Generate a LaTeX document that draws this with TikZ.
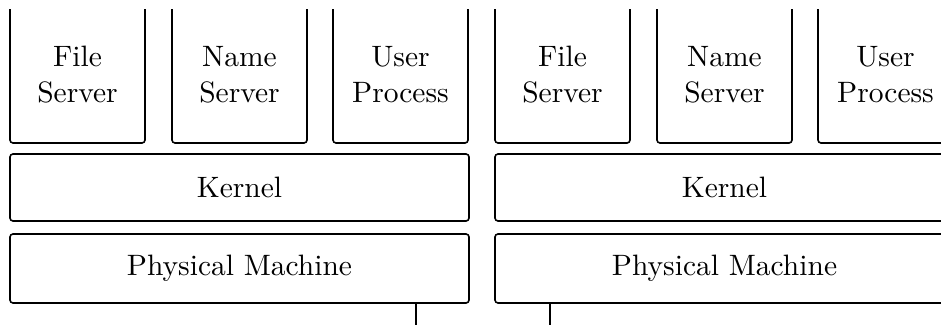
\documentclass[tikz,border=0pt]{standalone}
\usepackage{fontspec}
\newfontfamily\lmten{lmroman10-regular.otf}
\begin{document}
\begin{tikzpicture}[x=1pt,y=-1pt,
  frame/.style={line width=1.6pt, rounded corners=3pt},
  layer/.style={draw, line width=1.6pt, rounded corners=3pt, inner sep=0pt},
  lbl/.style={font=\lmten\fontsize{29.5}{36}\selectfont, align=center, inner sep=0pt},
  wire/.style={line width=1.3pt}]
\useasboundingbox (0,0) rectangle (941,324);
\clip (0,0) rectangle (941,324);
\foreach \dx/\m in {0/L,485/R} {
  % open-top process boxes
  \draw[frame] (10+\dx,9) -- (10+\dx,143) -- (145+\dx,143) -- (145+\dx,9);
  \draw[frame] (172+\dx,9) -- (172+\dx,143) -- (307+\dx,143) -- (307+\dx,9);
  \draw[frame] (333+\dx,9) -- (333+\dx,143) -- (468+\dx,143) -- (468+\dx,9);
  \node[lbl] (fs\m) at (77.5+\dx,75) {File\\Server};
  \node[lbl] (ns\m) at (239.5+\dx,75) {Name\\Server};
  \node[lbl] (up\m) at (400.5+\dx,75) {User\\Process};
  % kernel and physical machine
  \node[layer, lbl, minimum width=459pt, minimum height=67pt] (k\m) at (239.5+\dx,187.5) {Kernel};
  \node[layer, lbl, minimum width=459pt, minimum height=69pt] (pm\m) at (239.5+\dx,268.5) {Physical Machine};
}
\coordinate (netL) at (416,330);
\coordinate (netR) at (550,330);
\draw[wire] (pmL.south -| netL) -- (netL);
\draw[wire] (pmR.south -| netR) -- (netR);
\end{tikzpicture}
\end{document}
